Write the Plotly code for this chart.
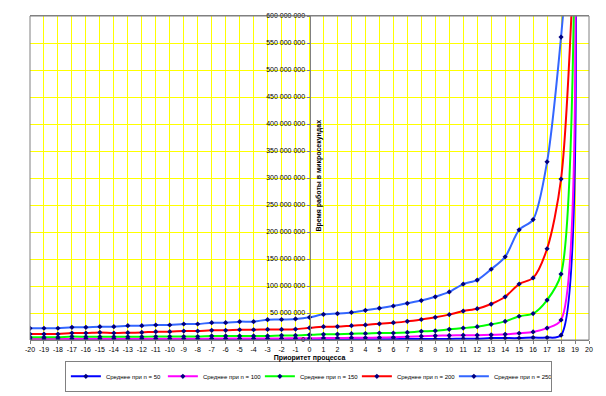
import plotly.graph_objects as go

priority = list(range(-20, 20))
x_tick_vals = list(range(-20, 21))
x_tick_text = [str(v) for v in x_tick_vals]

avg_n50 = [0.5, 0.5, 0.5, 0.6, 0.6, 0.6, 0.6, 0.7, 0.7, 0.7, 0.7, 0.8, 0.8, 0.8, 0.8, 0.9, 0.9, 0.9, 1.0, 1.0,
           1.0, 1.2, 1.2, 1.4, 1.4, 1.5, 1.6, 1.7, 1.8, 1.9, 2.0, 2.5, 2.5, 3.5, 3.5, 3.5, 4.5, 4.5, 9, 860]
avg_n100 = [2.0, 2.0, 2.0, 2.1, 2.1, 2.2, 2.2, 2.3, 2.3, 2.4, 2.4, 2.5, 2.5, 2.6, 2.7, 2.8, 2.9, 3.0, 3.0, 3.1,
            3.2, 3.5, 3.5, 4.0, 4.0, 4.5, 5.0, 6.0, 7.0, 8.0, 8.5, 9.0, 9.0, 9.5, 10.5, 12.5, 15, 22, 37, 850]
avg_n150 = [5, 5, 5, 6.5, 6, 6, 6, 6, 6, 6.5, 6.5, 6.5, 6.5, 7.5, 7.5, 7.5, 7.5, 7.5, 8.5, 8.5,
            9.5, 10.5, 10.8, 11.7, 12, 13, 13, 14, 16, 17, 19.7, 22, 24.6, 29, 34.5, 44, 49, 74, 122, 800]
avg_n200 = [11, 11, 11, 13, 13, 14, 13, 13.5, 14, 15.4, 15.4, 16.6, 16.6, 17.9, 17.9, 19, 19, 19.5, 19.5, 20,
            22.5, 24.6, 24.8, 26.5, 28, 30, 32, 34.5, 38, 42, 47, 53.6, 58, 66.6, 80, 103.6, 115, 169, 298, 760]
avg_n250 = [21.7, 21.8, 21.8, 23.5, 23.5, 24.6, 24.6, 26.5, 26.5, 27.8, 27.8, 29.6, 29.6, 32, 32, 34, 34, 37.7, 38, 39,
            42, 47.5, 49, 51, 55, 59, 63, 68, 73, 80, 89, 103.6, 111, 131, 154, 204, 223, 330, 561, 900]

series = [
    ("Среднее при n = 50", avg_n50, "#0000FF"),
    ("Среднее при n = 100", avg_n100, "#FF00FF"),
    ("Среднее при n = 150", avg_n150, "#00FF00"),
    ("Среднее при n = 200", avg_n200, "#FF0000"),
    ("Среднее при n = 250", avg_n250, "#3366FF"),
]

font_family = "Liberation Sans, Arial, sans-serif"

fig = go.Figure()
for name, vals, col in series:
    fig.add_trace(go.Scatter(
        x=priority, y=[v * 1e6 for v in vals], name=name, mode="lines+markers",
        line=dict(color=col, width=2, shape="spline", smoothing=0.8),
        marker=dict(symbol="diamond", size=4, color="#000080"),
        cliponaxis=True,
    ))

fig.update_layout(
    width=606, height=396,
    margin=dict(l=30, r=17, t=16, b=56, autoexpand=False),
    paper_bgcolor="white", plot_bgcolor="white",
    separators=", ",
    font=dict(family=font_family, size=7, color="black"),
    showlegend=True,
    legend=dict(orientation="h", x=0.498, xanchor="center", y=-0.16, yanchor="bottom",
                bordercolor="#808080", borderwidth=1, font=dict(size=6),
                itemwidth=30, entrywidth=52, entrywidthmode="pixels", tracegroupgap=0),
    xaxis=dict(range=[-20, 20], tickvals=x_tick_vals, ticktext=x_tick_text, tickangle=0,
               showgrid=True, gridcolor="#FFFF00", gridwidth=1, automargin=False,
               zeroline=False, showline=True, linecolor="#808080", linewidth=1, mirror=True,
               ticks="outside", ticklen=3, tickcolor="#808080", tickfont=dict(size=7),
               title=dict(text="<b>Приоритет процесса</b>", font=dict(size=7), standoff=2)),
    yaxis=dict(range=[0, 600e6], dtick=50e6, tickformat=",d", showgrid=True, gridcolor="#FFFF00",
               gridwidth=1, zeroline=False, showline=True, linecolor="#808080", linewidth=1,
               anchor="free", position=0.5, side="left", automargin=False,
               ticks="outside", ticklen=3, tickcolor="#808080", tickfont=dict(size=7)),
    shapes=[dict(type="rect", xref="paper", yref="paper", x0=0, y0=0, x1=1, y1=1,
                 line=dict(color="#808080", width=1))],
    annotations=[dict(text="<b>Время работы в микросекундах</b>", xref="paper", yref="paper",
                      x=0.5, y=0.506, xshift=10, textangle=-90, showarrow=False,
                      font=dict(size=7))],
)

fig.write_html("out.html", config={"displayModeBar": False},
               post_script="document.body.style.margin='0';")
